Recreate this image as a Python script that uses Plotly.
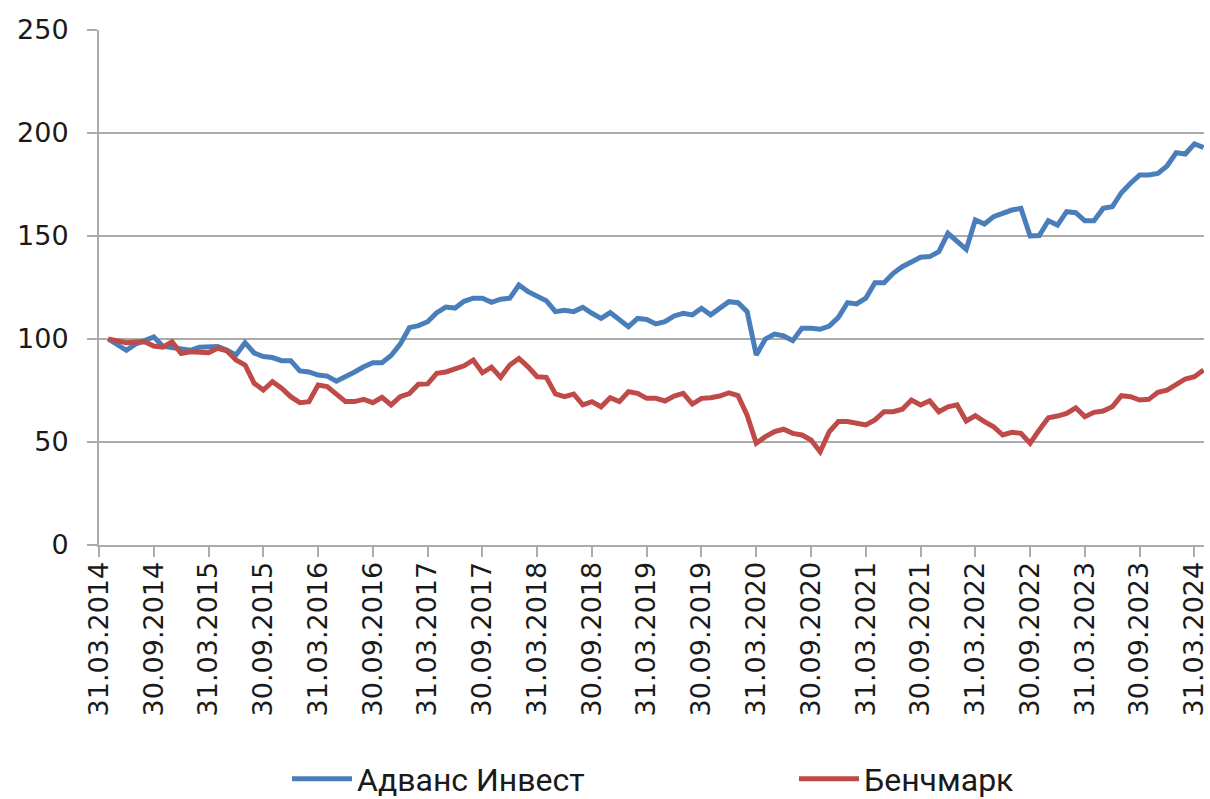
import plotly.graph_objects as go

tick_labels = ["31.03.2014", "30.09.2014", "31.03.2015", "30.09.2015", "31.03.2016",
               "30.09.2016", "31.03.2017", "30.09.2017", "31.03.2018", "30.09.2018",
               "31.03.2019", "30.09.2019", "31.03.2020", "30.09.2020", "31.03.2021",
               "30.09.2021", "31.03.2022", "30.09.2022", "31.03.2023", "30.09.2023",
               "31.03.2024"]

advance_invest = [
    100, 97.5, 94.5, 97.5, 99.5, 101, 96.5, 96, 95.5, 94.5,
    96, 96.2, 96.3, 94.7, 92.2, 98.2, 93.2, 91.5, 91, 89.5,
    89.5, 84.5, 84, 82.5, 82, 79.5, 81.5, 84, 86.5, 88.5,
    88.5, 92, 97.5, 105.5, 106.5, 108.4, 112.8, 115.5, 115, 118.3,
    119.8, 119.8, 117.8, 119.3, 119.8, 126.2, 123, 120.5, 118.6, 113.3,
    114, 113.3, 115.4, 112.5, 110, 112.8, 109.2, 106, 110, 109.5,
    107.3, 108.4, 111.2, 112.5, 111.7, 114.9, 111.7, 114.9, 118.1, 117.6,
    113.3, 92.2, 100, 102.4, 101.5, 99.2, 105.2, 105.2, 104.7, 106.3,
    110.5, 117.6, 117, 119.8, 127.3, 127.3, 131.9, 135.1, 137.5, 139.7,
    140, 142.4, 151.3, 147.5, 143.5, 157.8, 155.8, 159.4, 161.3, 162.6,
    163.4, 150, 150.2, 157.4, 155.3, 161.8, 161.3, 157.4, 157.4, 163.4,
    164.2, 171, 175.6, 179.6, 179.6, 180.4, 184, 190.4, 189.8, 194.7,
    193,
]

benchmark = [
    100, 99, 98.2, 98.5, 98.7, 96.6, 96, 98.7, 93, 93.8,
    93.5, 93.3, 95.5, 94.3, 89.8, 87.4, 78.5, 75.2, 79.3, 76.1,
    72, 69.1, 69.6, 77.7, 76.9, 73, 69.6, 69.6, 70.7, 69.1,
    71.7, 68, 72, 73.5, 78, 78.2, 83.3, 84, 85.5, 87,
    89.8, 83.6, 86.3, 81.4, 87.4, 90.6, 86.5, 81.7, 81.4, 73.3,
    72, 73.3, 68, 69.6, 67.1, 71.5, 69.6, 74.4, 73.6, 71.2,
    71.2, 69.9, 72.3, 73.6, 68.4, 71.2, 71.5, 72.3, 73.9, 72.5,
    63, 49.4, 52.6, 55, 56.2, 54.2, 53.4, 51, 45.3, 55,
    59.9, 59.9, 59.1, 58.3, 60.7, 64.7, 64.7, 65.9, 70.4, 68,
    70, 64.7, 67.1, 68, 60.2, 62.8, 59.9, 57.4, 53.4, 54.7,
    54.2, 49.4, 55.8, 61.8, 62.6, 63.9, 66.6, 62.3, 64.4, 65,
    67.1, 72.5, 72, 70.4, 70.7, 74.1, 75.2, 78, 80.6, 81.7,
    85,
]

series_names = ["Адванс Инвест", "Бенчмарк"]

months = list(range(len(advance_invest)))
tick_positions = [6 * k - 1 for k in range(len(tick_labels))]

fig = go.Figure()
fig.add_trace(go.Scatter(x=months, y=advance_invest, mode="lines", name=series_names[0],
                         line=dict(color="#4A7EBB", width=5), legend="legend"))
fig.add_trace(go.Scatter(x=months, y=benchmark, mode="lines", name=series_names[1],
                         line=dict(color="#BE4B48", width=5), legend="legend2"))

font_family = "DejaVu Sans"
grid_col = "#ABABAB"
legend_font = dict(family="Roboto", size=32, color="#1a1a1a")

plot_l, plot_r = 99, 6
plot_w = 1210 - plot_l - plot_r

fig.update_layout(
    width=1210, height=799,
    margin=dict(l=plot_l, r=plot_r, t=30, b=254, autoexpand=False),
    paper_bgcolor="white", plot_bgcolor="white",
    font=dict(family=font_family, color="#1a1a1a", size=27),
    showlegend=True,
    legend=dict(orientation="h", x=(287 - plot_l) / plot_w, xanchor="left",
                y=0.025, yref="container", yanchor="middle",
                font=legend_font, itemwidth=60, bgcolor="rgba(0,0,0,0)"),
    legend2=dict(orientation="h", x=(794 - plot_l) / plot_w, xanchor="left",
                 y=0.025, yref="container", yanchor="middle",
                 font=legend_font, itemwidth=60, bgcolor="rgba(0,0,0,0)"),
    xaxis=dict(
        range=[-1, 120.05], tickmode="array", tickvals=tick_positions, ticktext=tick_labels,
        tickangle=-90, showgrid=False, zeroline=False,
        showline=True, linecolor=grid_col, linewidth=2,
        ticks="outside", ticklen=10, tickwidth=2, tickcolor=grid_col,
        tickfont=dict(family=font_family, size=27, color="#1a1a1a"),
        ticklabelstandoff=-6, automargin=False,
    ),
    yaxis=dict(
        range=[0, 250], tickmode="array", tickvals=[0, 50, 100, 150, 200, 250],
        showgrid=True, gridcolor=grid_col, gridwidth=2, zeroline=False,
        showline=True, linecolor=grid_col, linewidth=2,
        ticks="outside", ticklen=10, tickwidth=2, tickcolor=grid_col,
        tickfont=dict(family=font_family, size=27, color="#1a1a1a"),
        ticklabelstandoff=13, automargin=False,
    ),
)

fig.write_html(
    "out.html",
    config={"displayModeBar": False},
    post_script="document.body.style.margin='0';document.body.style.overflow='hidden';",
)
